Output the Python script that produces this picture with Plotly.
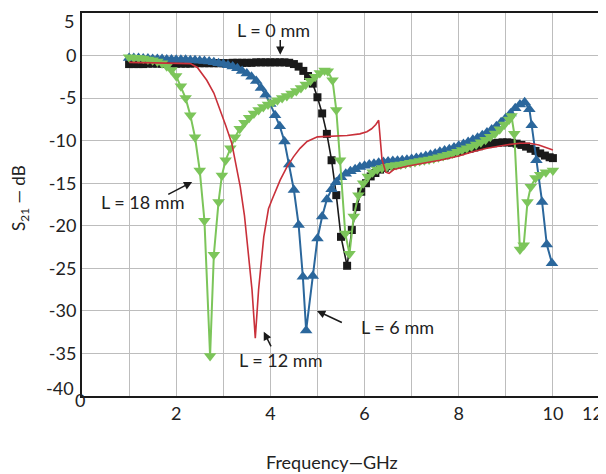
import plotly.graph_objects as go

# ---------------- data ----------------
# L = 0 mm (black squares)
l0_freq = [1.0, 1.1, 1.2, 1.3, 1.4, 1.5, 1.6, 1.7, 1.8, 1.9, 2.0, 2.1, 2.2, 2.3, 2.4, 2.5, 2.6, 2.7,
           2.8, 2.9, 3.0, 3.1, 3.2, 3.3, 3.4, 3.5, 3.6, 3.7, 3.8, 3.9, 4.0, 4.1, 4.2, 4.3, 4.4, 4.5,
           4.6, 4.7, 4.8, 4.9, 5.0, 5.1, 5.2, 5.3, 5.4, 5.5, 5.63, 5.73, 5.83, 5.93, 6.03, 6.13,
           6.23, 6.33, 6.43, 6.53, 6.63, 6.73, 6.83, 6.93, 7.03, 7.13, 7.23, 7.33, 7.43, 7.53, 7.63,
           7.73, 7.83, 7.93, 8.03, 8.13, 8.23, 8.33, 8.43, 8.53, 8.63, 8.73, 8.83, 8.93, 9.03, 9.13,
           9.23, 9.33, 9.43, 9.53, 9.63, 9.73, 9.83, 9.93, 10.0]
l0_s21 = [-1.0, -1.0, -1.0, -1.0, -0.95, -0.95, -0.95, -0.95, -0.95, -0.95, -0.95, -0.95, -0.95,
          -0.95, -0.9, -0.9, -0.9, -0.9, -0.9, -0.9, -0.9, -0.9, -0.85, -0.85, -0.85, -0.85, -0.85,
          -0.8, -0.8, -0.8, -0.8, -0.8, -0.8, -0.8, -0.85, -1.0, -1.3, -1.8, -2.4, -3.3, -4.9, -6.8,
          -9.2, -12.3, -16.4, -21.3, -24.7, -20.5, -17.8, -16.0, -15.0, -14.2, -13.8, -13.4, -13.2,
          -13.0, -12.85, -12.7, -12.6, -12.5, -12.4, -12.3, -12.2, -12.1, -12.0, -11.9, -11.8,
          -11.7, -11.55, -11.4, -11.25, -11.1, -10.95, -10.8, -10.65, -10.5, -10.4, -10.3, -10.25,
          -10.2, -10.2, -10.25, -10.35, -10.5, -10.7, -10.95, -11.2, -11.5, -11.75, -11.95, -12.05]

# L = 6 mm (blue up-triangles)
l6_freq = [1.0, 1.1, 1.2, 1.3, 1.4, 1.5, 1.6, 1.7, 1.8, 1.9, 2.0, 2.1, 2.2, 2.3, 2.4, 2.5, 2.6, 2.7,
           2.8, 2.9, 3.0, 3.1, 3.2, 3.3, 3.4, 3.5, 3.6, 3.7, 3.8, 3.9, 4.0, 4.1, 4.2, 4.3, 4.4, 4.5,
           4.6, 4.69, 4.76, 4.9, 5.0, 5.1, 5.2, 5.3, 5.4, 5.5, 5.6, 5.7, 5.8, 5.9, 6.0, 6.1, 6.2, 6.3,
           6.4, 6.5, 6.6, 6.7, 6.8, 6.9, 7.0, 7.1, 7.2, 7.3, 7.4, 7.5, 7.6, 7.7, 7.8, 7.9, 8.0, 8.1,
           8.2, 8.3, 8.4, 8.5, 8.6, 8.7, 8.8, 8.9, 9.0, 9.1, 9.2, 9.3, 9.4, 9.5, 9.55, 9.65, 9.77,
           9.87, 9.98]
l6_s21 = [-0.3, -0.3, -0.3, -0.35, -0.35, -0.4, -0.4, -0.4, -0.45, -0.45, -0.5, -0.5, -0.5, -0.55,
          -0.55, -0.6, -0.65, -0.7, -0.8, -0.9, -1.0, -1.15, -1.3, -1.5, -1.8, -2.1, -2.5, -3.0,
          -3.8, -4.6, -5.7, -7.0, -8.3, -10.1, -12.8, -15.8, -19.9, -26.0, -32.3, -25.9, -21.5,
          -18.9, -16.9, -15.7, -14.9, -14.3, -13.9, -13.6, -13.35, -13.1, -12.95, -12.8, -12.7,
          -12.6, -12.5, -12.45, -12.4, -12.35, -12.3, -12.25, -12.15, -12.05, -11.95, -11.8,
          -11.65, -11.5, -11.3, -11.15, -11.0, -10.8, -10.6, -10.4, -10.15, -9.9, -9.65, -9.35,
          -9.05, -8.7, -8.3, -7.85, -7.35, -6.8, -6.2, -5.75, -5.5, -6.3, -8.2, -12.3, -17.2,
          -22.2, -24.4]

# L = 12 mm (red line)
l12_freq = [1.0, 1.5, 2.0, 2.3, 2.45, 2.65, 2.8, 2.94, 3.05, 3.18, 3.27, 3.36, 3.45, 3.53, 3.61,
            3.68, 3.75, 3.86, 3.96, 4.03, 4.12, 4.21, 4.35, 4.49, 4.63, 4.78, 5.0, 5.3, 5.63, 5.9,
            6.05, 6.15, 6.24, 6.3, 6.37, 6.45, 6.52, 6.62, 6.9, 7.3, 7.6, 8.0, 8.3, 8.6, 9.0, 9.3,
            9.5, 9.7, 9.85, 10.0]
l12_s21 = [-0.8, -0.85, -0.9, -0.95, -1.4, -2.9, -4.4, -6.4, -8.2, -10.3, -12.7, -15.4, -18.8,
           -22.8, -27.5, -33.2, -27.5, -21.3, -18.0, -17.0, -15.8, -14.6, -13.1, -11.9, -10.9, -10.1,
           -9.55, -9.45, -9.4, -9.2, -8.95, -8.6, -8.1, -7.6, -12.2, -13.7, -13.85, -13.4, -13.0,
           -12.6, -12.3, -11.8, -11.3, -10.9, -10.5, -10.3, -10.3, -10.5, -10.8, -11.1]

# L = 18 mm (green down-triangles)
l18_freq = [1.0, 1.1, 1.2, 1.3, 1.4, 1.5, 1.6, 1.7, 1.8, 1.9, 2.0, 2.1, 2.2, 2.3, 2.4, 2.5, 2.6,
            2.72, 2.8, 2.9, 2.97, 3.05, 3.15, 3.25, 3.35, 3.45, 3.55, 3.65, 3.75, 3.85, 3.95, 4.05,
            4.15, 4.25, 4.35, 4.45, 4.55, 4.65, 4.75, 4.85, 4.95, 5.05, 5.15, 5.22, 5.32, 5.4, 5.48,
            5.59, 5.68, 5.77, 5.87, 5.97, 6.07, 6.17, 6.27, 6.37, 6.47, 6.57, 6.67, 6.77, 6.87, 6.97,
            7.07, 7.17, 7.27, 7.37, 7.47, 7.57, 7.67, 7.77, 7.87, 7.97, 8.07, 8.17, 8.27, 8.37, 8.47,
            8.57, 8.67, 8.77, 8.87, 8.97, 9.07, 9.12, 9.18, 9.3, 9.38, 9.46, 9.53, 9.63, 9.73, 9.85,
            10.0]
l18_s21 = [-0.2, -0.25, -0.3, -0.35, -0.45, -0.55, -0.7, -0.9, -1.25, -1.7, -2.4, -3.6, -5.0, -7.0,
           -9.6, -13.5, -19.4, -35.3, -23.4, -17.2, -14.1, -12.3, -10.9, -9.6, -8.6, -7.9, -7.3, -6.8,
           -6.4, -6.05, -5.75, -5.5, -5.25, -5.0, -4.75, -4.45, -4.15, -3.8, -3.4, -2.95, -2.5, -2.05,
           -1.75, -1.85, -2.9, -6.4, -12.3, -20.9, -23.3, -18.9, -16.4, -15.0, -14.2, -13.7, -13.4,
           -13.2, -13.05, -12.95, -12.85, -12.8, -12.7, -12.6, -12.5, -12.4, -12.3, -12.2, -12.1,
           -11.95, -11.8, -11.65, -11.5, -11.3, -11.1, -10.9, -10.7, -10.45, -10.2, -9.9, -9.55,
           -9.15, -8.65, -8.1, -7.5, -7.1, -9.2, -22.8, -22.3, -17.2, -15.4, -14.4, -14.0, -13.7,
           -13.5]

# tick labels; the edge labels ("0", "12" on x, "-40", "5" on y) are set as annotations
x_tick_vals = [0, 1, 2, 3, 4, 5, 6, 7, 8, 9, 10, 11]
x_tick_text = ["0", "", "2", "", "4", "", "6", "", "8", "", "10", "12"]
y_tick_vals = [-40, -35, -30, -25, -20, -15, -10, -5, 0, 5]
y_tick_text = ["-40", "-35", "-30", "-25", "-20", "-15", "-10", "-5", "0", "5"]

FONT = "Lato"
TXT = "#222222"
TICKSIZE = 18

fig = go.Figure()
fig.add_trace(go.Scatter(x=l0_freq, y=l0_s21, mode="lines+markers", name="L = 0 mm",
                         line=dict(color="#1a1a1a", width=1.6),
                         marker=dict(symbol="square", size=8, color="#1a1a1a")))
fig.add_trace(go.Scatter(x=l6_freq, y=l6_s21, mode="lines+markers", name="L = 6 mm",
                         line=dict(color="#2b679c", width=2),
                         marker=dict(symbol="triangle-up", size=11, color="#2b679c")))
fig.add_trace(go.Scatter(x=l18_freq, y=l18_s21, mode="lines+markers", name="L = 18 mm",
                         line=dict(color="#7cc55a", width=2),
                         marker=dict(symbol="triangle-down", size=11, color="#7cc55a")))
fig.add_trace(go.Scatter(x=l12_freq, y=l12_s21, mode="lines", name="L = 12 mm",
                         line=dict(color="#c9303a", width=1.6)))

# labels with arrows: (text, text_x, text_y, tail_x, tail_y, head_x, head_y)
labels = [
    ("L = 0 mm", 4.06, 2.97, 4.21, 2.0, 4.21, 0.1),
    ("L = 18 mm", 1.28, -17.2, 1.8, -16.4, 2.34, -14.85),
    ("L = 12 mm", 4.21, -35.8, 4.03, -34.35, 3.86, -32.45),
    ("L = 6 mm", 6.69, -31.9, 5.55, -31.45, 4.99, -30.0),
]
for t, tx, ty, ax_, ay_, hx, hy in labels:
    fig.add_annotation(x=tx, y=ty, xref="x", yref="y", text=t, showarrow=False,
                       font=dict(family=FONT, size=18, color=TXT))
    fig.add_annotation(x=hx, y=hy, ax=ax_, ay=ay_, xref="x", yref="y", axref="x", ayref="y",
                       text="", showarrow=True, arrowhead=2, arrowsize=1.1, arrowwidth=1.5,
                       arrowcolor="#1a1a1a")

# axis titles
fig.add_annotation(x=-0.1197, y=0.517, xref="paper", yref="paper", text="S<sub>21</sub> — dB",
                   textangle=-90, xanchor="center", yanchor="middle", showarrow=False,
                   font=dict(family=FONT, size=17, color=TXT))
fig.add_annotation(x=0.4826, y=-0.1723, xref="paper", yref="paper", text="Frequency—GHz",
                   xanchor="center", yanchor="middle", showarrow=False,
                   font=dict(family=FONT, size=18, color=TXT))

# edge tick labels placed by hand (as in the reference)
tickfont = dict(family=FONT, size=TICKSIZE, color=TXT)
fig.add_annotation(x=1.0097, y=-0.0444, xref="paper", yref="paper", text=x_tick_text[-1],
                   xanchor="right", yanchor="middle", showarrow=False, font=tickfont)
fig.add_annotation(x=-0.004, y=-0.0104, xref="paper", yref="paper", text=x_tick_text[0],
                   xanchor="center", yanchor="middle", showarrow=False, font=tickfont)
fig.add_annotation(x=-0.0116, y=0.0209, xref="paper", yref="paper", text=y_tick_text[0],
                   xanchor="right", yanchor="middle", showarrow=False, font=tickfont)
fig.add_annotation(x=-0.0116, y=1.0131, xref="paper", yref="paper", text=y_tick_text[-1],
                   xanchor="right", yanchor="top", showarrow=False, font=tickfont)

x_axis_text = [""] + x_tick_text[1:-1] + [""]
y_axis_text = [""] + y_tick_text[1:-1] + [""]

axis_common = dict(showline=True, linecolor="#1a1a1a", linewidth=2, mirror=True,
                   showgrid=True, gridcolor="#bdbdbd", gridwidth=1.3, zeroline=False,
                   ticks="", automargin=False, tickfont=tickfont)
fig.update_xaxes(range=[0, 11], tickmode="array", tickvals=x_tick_vals, ticktext=x_axis_text,
                 **axis_common)
fig.update_yaxes(range=[-40, 5], tickmode="array", tickvals=y_tick_vals, ticktext=y_axis_text,
                 **axis_common)

# the page body adds an 8 px margin, so the figure is 8 px smaller and margins are shifted
fig.update_layout(width=598, height=466, showlegend=False,
                  margin=dict(l=74, r=6, t=5, b=78),
                  plot_bgcolor="white", paper_bgcolor="white",
                  font=dict(family=FONT, color=TXT))

fig.write_html("out.html")
